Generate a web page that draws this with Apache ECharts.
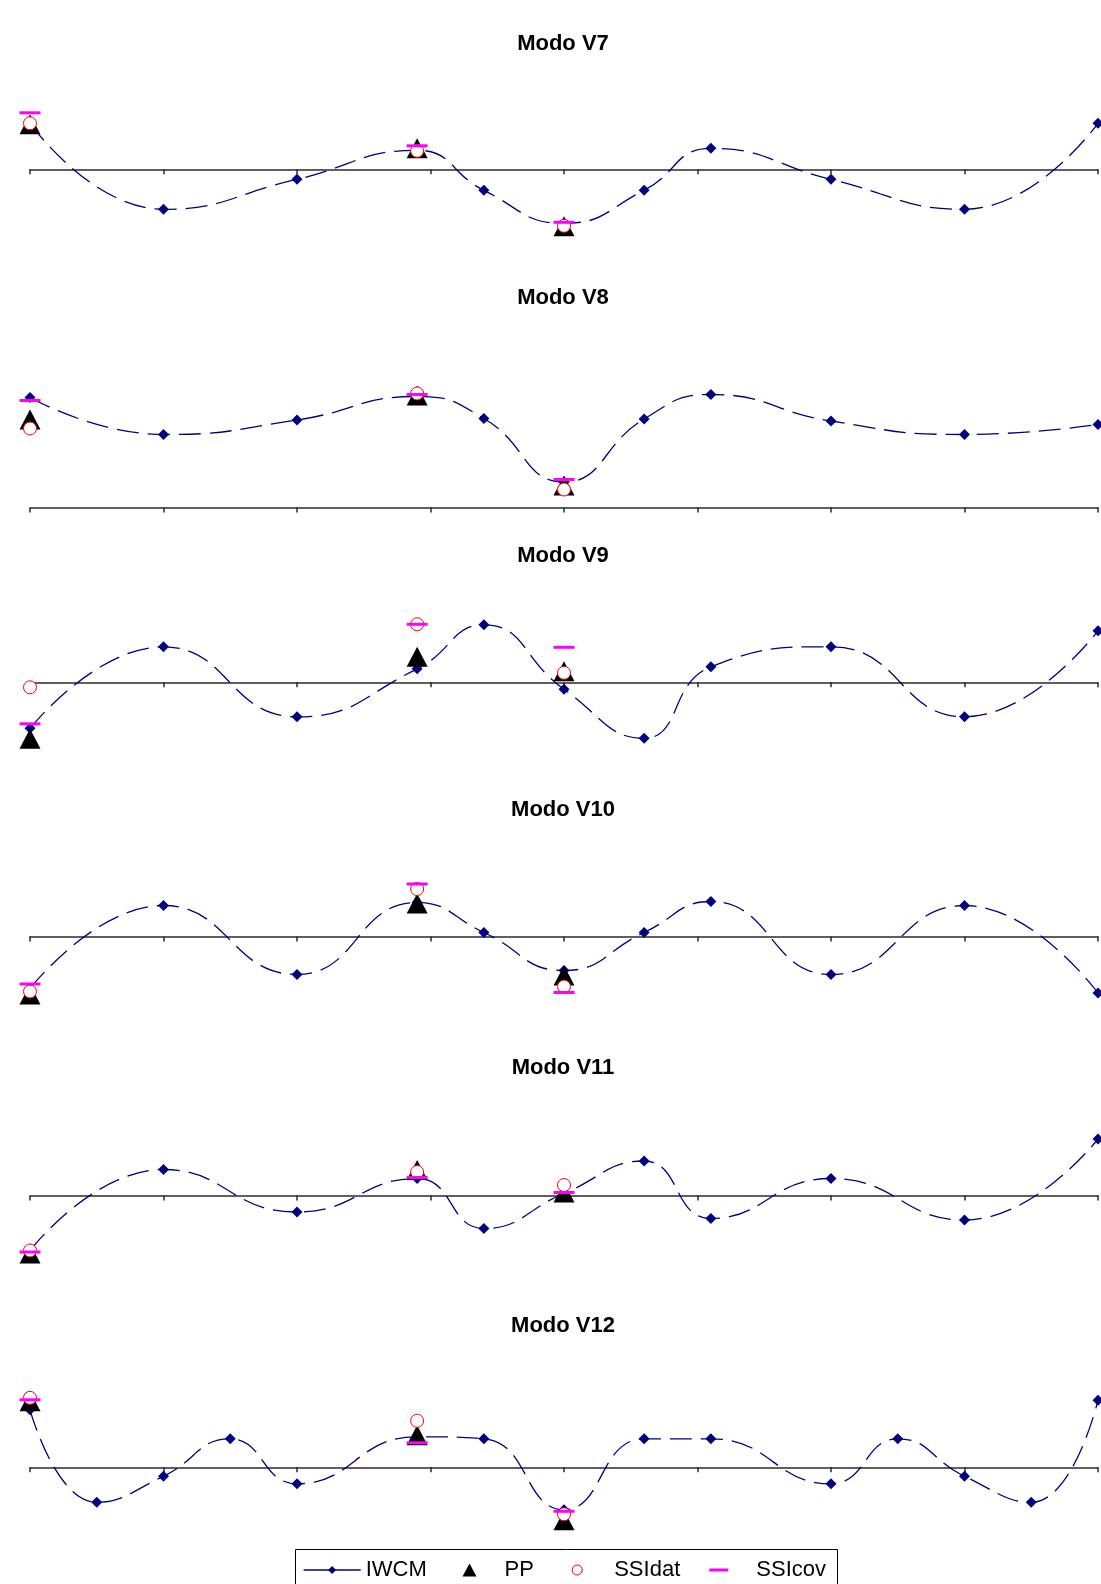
<!DOCTYPE html>
<html>
<head>
<meta charset="utf-8">
<script src="https://cdn.jsdelivr.net/npm/echarts@6/dist/echarts.min.js"></script>
<style>
html,body{margin:0;padding:0;background:#ffffff;}
#chart{width:1101px;height:1584px;}
</style>
</head>
<body>
<div id="chart"></div>
<script>
// ---------------- DATA ----------------
const modeNames = ['Modo V7', 'Modo V8', 'Modo V9', 'Modo V10', 'Modo V11', 'Modo V12'];
const seriesNames = ['IWCM', 'PP', 'SSIdat', 'SSIcov'];
const xTicks = [0, 1, 2, 3, 4, 5, 6, 7, 8];

// sensor positions along the structure
const xIWCM = [0, 1, 2, 2.9, 3.4, 4, 4.6, 5.1, 6, 7, 8];
const xIWCM12 = [0, 0.5, 1, 1.5, 2, 2.9, 3.4, 4, 4.6, 5.1, 6, 6.5, 7, 7.5, 8];
const xTest = [0, 2.9, 4];

// IWCM mode shapes
const iwcmV7  = [0.92, -0.80, -0.20, 0.38, -0.42, -1.08, -0.42, 0.42, -0.20, -0.80, 0.92];
const iwcmV8  = [2.20, 1.46, 1.75, 2.22, 1.78, 0.51, 1.77, 2.26, 1.73, 1.46, 1.66];
const iwcmV9  = [-0.92, 0.71, -0.69, 0.27, 1.15, -0.14, -1.12, 0.31, 0.71, -0.69, 1.03];
const iwcmV10 = [-1.04, 0.62, -0.76, 0.68, 0.08, -0.68, 0.08, 0.70, -0.76, 0.62, -1.13];
const iwcmV11 = [-1.10, 0.52, -0.33, 0.34, -0.66, 0.04, 0.69, -0.46, 0.34, -0.49, 1.13];
const iwcmV12 = [1.15, -0.70, -0.18, 0.57, -0.33, 0.61, 0.57, -0.85, 0.57, 0.57, -0.33, 0.57, -0.18, -0.70, 1.34];

// PP (peak picking) at xTest
const ppV7  = [0.90, 0.42, -1.14];
const ppV8  = [1.76, 2.24, 0.44];
const ppV9  = [-1.13, 0.51, 0.22];
const ppV10 = [-1.16, 0.66, -0.78];
const ppV11 = [-1.16, 0.51, 0.06];
const ppV12 = [1.32, 0.64, -1.06];

// SSI-data at xTest
const ssidatV7  = [0.92, 0.37, -1.13];
const ssidatV8  = [1.58, 2.28, 0.36];
const ssidatV9  = [-0.10, 1.16, 0.19];
const ssidatV10 = [-1.10, 0.95, -1.00];
const ssidatV11 = [-1.10, 0.47, 0.21];
const ssidatV12 = [1.39, 0.93, -0.94];

// SSI-cov at xTest
const ssicovV7  = [1.13, 0.47, -1.06];
const ssicovV8  = [2.14, 2.26, 0.56];
const ssicovV9  = [-0.83, 1.16, 0.70];
const ssicovV10 = [-0.95, 1.05, -1.12];
const ssicovV11 = [-1.13, 0.36, 0.06];
const ssicovV12 = [1.35, 0.49, -0.88];

// ---------------- BUILD ----------------
const FONT = '"Liberation Sans", Arial, sans-serif';
const panelX = [xIWCM, xIWCM, xIWCM, xIWCM, xIWCM, xIWCM12];
const panelIWCM = [iwcmV7, iwcmV8, iwcmV9, iwcmV10, iwcmV11, iwcmV12];
const panelPP = [ppV7, ppV8, ppV9, ppV10, ppV11, ppV12];
const panelDat = [ssidatV7, ssidatV8, ssidatV9, ssidatV10, ssidatV11, ssidatV12];
const panelCov = [ssicovV7, ssicovV8, ssicovV9, ssicovV10, ssicovV11, ssicovV12];

// layout (pixels)
const axisY = [169.3, 507.5, 682.3, 936.5, 1195.5, 1467.3];
const titleY = [43.5, 298, 555.5, 810, 1067.5, 1326];
const PX_PER_UNIT = 50, Y_MIN = -2, Y_MAX = 3;

const zip = (xs, ys) => xs.map((x, i) => [x, ys[i]]);

const grids = [], xAxes = [], yAxes = [], series = [], titles = [];
for (let i = 0; i < 6; i++) {
  grids.push({
    left: 30, width: 1068,
    top: axisY[i] - Y_MAX * PX_PER_UNIT,
    height: (Y_MAX - Y_MIN) * PX_PER_UNIT,
    containLabel: false
  });
  xAxes.push({
    type: 'value', gridIndex: i,
    min: xTicks[0], max: xTicks[xTicks.length - 1], interval: 1,
    axisLine: { show: true, onZero: true, lineStyle: { color: '#2b2b2b', width: 1.5 } },
    axisTick: { show: true, inside: false, length: 5, lineStyle: { color: '#2b2b2b', width: 1.5 } },
    axisLabel: { show: false },
    splitLine: { show: false }
  });
  yAxes.push({
    type: 'value', gridIndex: i, min: Y_MIN, max: Y_MAX, interval: 1, show: false,
    splitLine: { show: false }
  });
  titles.push({
    text: modeNames[i],
    left: 563, top: titleY[i],
    textAlign: 'center', textVerticalAlign: 'middle',
    padding: 0,
    textStyle: { fontSize: 22, fontWeight: 'bold', fontFamily: FONT, color: '#000000' }
  });
  series.push({
    name: 'IWCM', type: 'line', xAxisIndex: i, yAxisIndex: i,
    data: zip(panelX[i], panelIWCM[i]),
    smooth: 0.5, symbol: 'diamond', symbolSize: 11,
    lineStyle: { color: '#000080', width: 1.3, type: [22, 9] },
    itemStyle: { color: '#000080', opacity: 1 },
    emphasis: { disabled: true }, silent: true, z: 2
  });
  series.push({
    name: 'PP', type: 'scatter', xAxisIndex: i, yAxisIndex: i,
    data: zip(xTest, panelPP[i]),
    symbol: 'triangle', symbolSize: [21, 20],
    itemStyle: { color: '#000000', opacity: 1 },
    emphasis: { disabled: true }, silent: true, z: 3
  });
  series.push({
    name: 'SSIdat', type: 'scatter', xAxisIndex: i, yAxisIndex: i,
    data: zip(xTest, panelDat[i]),
    symbol: 'circle', symbolSize: 13,
    itemStyle: { color: '#ffffff', borderColor: '#ff0000', borderWidth: 1, opacity: 1 },
    emphasis: { disabled: true }, silent: true, z: 4
  });
  series.push({
    name: 'SSIcov', type: 'scatter', xAxisIndex: i, yAxisIndex: i,
    data: zip(xTest, panelCov[i]),
    symbol: 'rect', symbolSize: [21, 3],
    itemStyle: { color: '#ff00ff', opacity: 1 },
    emphasis: { disabled: true }, silent: true, z: 5
  });
}

const legendText = (padLeft) => ({
  fontSize: 22, fontFamily: FONT, color: '#000000', padding: [0, 0, 0, padLeft]
});
const LEG_TOP = 1559;
const legends = [
  { data: ['IWCM'], left: 303, top: LEG_TOP, padding: 0, itemWidth: 57, itemHeight: 10,
    lineStyle: { type: 'solid', width: 1.3, color: '#000080' }, selectedMode: false, textStyle: legendText(0) },
  { data: ['PP'], left: 462.5, top: LEG_TOP, padding: 0, itemWidth: 14, itemHeight: 13,
    itemStyle: { opacity: 1 }, selectedMode: false, textStyle: legendText(23) },
  { data: ['SSIdat'], left: 571.7, top: LEG_TOP, padding: 0, itemWidth: 10, itemHeight: 10,
    itemStyle: { borderWidth: 1, borderColor: '#ff0000', color: '#ffffff', opacity: 1 }, selectedMode: false, textStyle: legendText(27) },
  { data: ['SSIcov'], left: 709.3, top: LEG_TOP, padding: 0, itemWidth: 19, itemHeight: 3,
    itemStyle: { opacity: 1 }, selectedMode: false, textStyle: legendText(23) }
];

const chart = echarts.init(document.getElementById('chart'), null, { renderer: 'canvas' });
chart.setOption({
  backgroundColor: '#ffffff',
  animation: false,
  title: titles,
  grid: grids,
  xAxis: xAxes,
  yAxis: yAxes,
  legend: legends,
  tooltip: { show: false },
  graphic: [{
    type: 'rect', z: 0, silent: true,
    shape: { x: 295.5, y: 1549.5, width: 542, height: 60 },
    style: { fill: 'transparent', stroke: '#000000', lineWidth: 1 }
  }],
  series: series
});
</script>
</body>
</html>
